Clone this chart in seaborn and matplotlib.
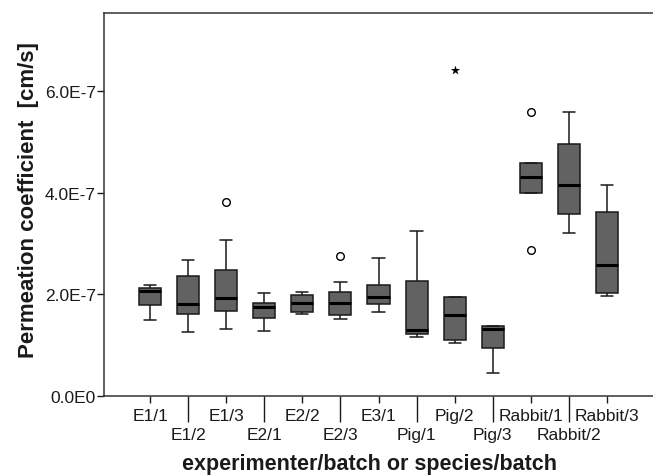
import numpy as np
import pandas as pd
import matplotlib
matplotlib.use("Agg")
import matplotlib.pyplot as plt
import seaborn as sns

groups = ["E1/1", "E1/2", "E1/3", "E2/1", "E2/2", "E2/3", "E3/1",
          "Pig/1", "Pig/2", "Pig/3", "Rabbit/1", "Rabbit/2", "Rabbit/3"]
e1_1 = [1.50, 1.78, 2.07, 2.13, 2.19]
e1_2 = [1.25, 1.62, 1.80, 2.35, 2.68]
e1_3 = [1.32, 1.68, 1.68, 1.92, 1.92, 2.48, 2.48, 3.07, 3.82]
e2_1 = [1.27, 1.54, 1.75, 1.83, 2.03]
e2_2 = [1.61, 1.66, 1.83, 1.99, 2.04]
e2_3 = [1.52, 1.60, 1.60, 1.83, 1.83, 2.04, 2.04, 2.25, 2.75]
e3_1 = [1.66, 1.81, 1.94, 2.19, 2.71]
pig_1 = [1.16, 1.22, 1.29, 2.27, 3.25]
pig_2 = [1.04, 1.11, 1.60, 1.94, 6.40]
pig_3 = [0.46, 0.94, 1.31, 1.37, 1.37]
rabbit_1 = [2.88, 4.00, 4.00, 4.30, 4.58, 4.58, 5.58]
rabbit_2 = [3.20, 3.58, 4.15, 4.96, 5.58]
rabbit_3 = [1.97, 2.02, 2.57, 3.62, 4.15]
observations = [e1_1, e1_2, e1_3, e2_1, e2_2, e2_3, e3_1,
                pig_1, pig_2, pig_3, rabbit_1, rabbit_2, rabbit_3]

y_ticks = [0, 2e-7, 4e-7, 6e-7]
y_tick_labels = ["0.0E0", "2.0E-7", "4.0E-7", "6.0E-7"]

rows = []
for g, vals in zip(groups, observations):
    for v in vals:
        rows.append({"batch": g, "perm": v * 1e-7})
df = pd.DataFrame(rows)

# SPSS style outliers: circle beyond 1.5 IQR, star beyond 3 IQR
q = df.groupby("batch")["perm"].quantile([0.25, 0.75]).unstack()
iqr = q[0.75] - q[0.25]
df = df.join(q, on="batch").join(iqr.rename("iqr"), on="batch")
dist = np.maximum(df[0.25] - df["perm"], df["perm"] - df[0.75]) / df["iqr"]
mild = df[(dist > 1.5) & (dist <= 3)]
extreme = df[dist > 3]

sns.set_style("ticks")
plt.rcParams["font.family"] = ["Liberation Sans", "DejaVu Sans"]

fig = plt.figure(figsize=(6.53, 4.77), dpi=100)
ax = fig.add_axes([104 / 653, 1 - 397 / 477, 1 - 104 / 653, 383 / 477])

sns.boxplot(data=df, x="batch", y="perm", order=groups, ax=ax,
            color="#626262", saturation=1, width=0.58, showfliers=False,
            linecolor="#1a1a1a", linewidth=1.1,
            medianprops={"color": "black", "linewidth": 2.2},
            capwidths=0.32)
sns.stripplot(data=mild, x="batch", y="perm", order=groups, ax=ax,
              jitter=False, marker="o", color="white", edgecolor="black",
              linewidth=1, size=5.5)
sns.stripplot(data=extreme, x="batch", y="perm", order=groups, ax=ax,
              jitter=False, marker="*", color="black", size=7)

ax.set_xlim(-1.21, 13.21)
ax.set_ylim(0, 7.53e-7)
ax.set_yticks(y_ticks)
ax.set_yticklabels(y_tick_labels)

ax.set_xticks(range(0, 13, 2))
ax.set_xticklabels(groups[0::2])
ax.set_xticks(range(1, 13, 2), minor=True)
ax.set_xticklabels(groups[1::2], minor=True)
ax.tick_params(axis="x", which="major", length=5, width=1, pad=4,
               labelsize=12.5, colors="#1a1a1a")
ax.tick_params(axis="x", which="minor", length=19, width=1, pad=3,
               labelsize=12.5, colors="#1a1a1a")
ax.tick_params(axis="y", length=5, width=1, pad=1, labelsize=12.5,
               colors="#1a1a1a")

ax.spines["right"].set_visible(False)
for s in ["left", "bottom", "top"]:
    ax.spines[s].set_color("#333333")
    ax.spines[s].set_linewidth(1.1)

ax.set_xlabel("experimenter/batch or species/batch", fontsize=15.5,
              fontweight="bold", color="#1a1a1a", labelpad=8, x=0.483)
ax.set_ylabel("Permeation coefficient  [cm/s]", fontsize=16,
              fontweight="bold", color="#1a1a1a", labelpad=4, y=0.515)

fig.savefig("out.png", dpi=100)
